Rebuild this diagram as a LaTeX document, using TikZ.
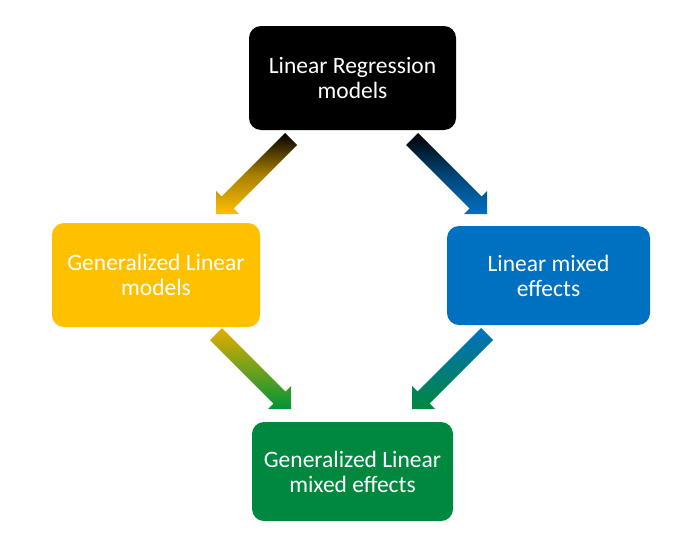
\documentclass[tikz,border=0pt]{standalone}
\usepackage{fontspec}
\setmainfont{Carlito}
\definecolor{cblack}{HTML}{000000}
\definecolor{cyellow}{HTML}{FFC000}
\definecolor{cblue}{HTML}{0070C0}
\definecolor{cgreen}{HTML}{00883E}
\begin{document}
\begin{tikzpicture}[x=1pt,y=-1pt,
  box/.style={rectangle, rounded corners=12pt, text=white, align=center,
    font=\fontsize{23.5}{25}\selectfont, inner sep=0pt},
  blockarrow/.style={draw=none}]
\useasboundingbox[fill=white] (0,0) rectangle (676,538);
% boxes
\node[box, fill=cblack, minimum width=207pt, minimum height=104pt] (lr) at (352.5,78) {Linear Regression\\models};
\node[box, fill=cyellow, minimum width=208pt, minimum height=104pt] (glm) at (156,275) {Generalized Linear\\models};
\node[box, fill=cblue, minimum width=203pt, minimum height=99pt] (lme) at (548.5,275.5) {Linear mixed\\effects};
\node[box, fill=cgreen, minimum width=201pt, minimum height=99pt] (glme) at (352.5,471.5) {Generalized Linear\\mixed effects};
% block arrows
\path[blockarrow, top color=black, bottom color=cyellow, middle color=cyellow!65!black]
  (285,133) -- (297,145) -- (233.5,208.5) -- (239,214) -- (216,214) -- (216,191) -- (221.5,196.5) -- cycle;
\path[blockarrow, top color=black, bottom color=cblue, middle color=cblue!60!black]
  (418,133) -- (406,145) -- (469.5,208.5) -- (464,214) -- (487,214) -- (487,191) -- (481.5,196.5) -- cycle;
\path[blockarrow, top color=cyellow!90!black, bottom color=cgreen!90!green]
  (210,340) -- (222,328) -- (285.5,391.5) -- (291,386) -- (291,409) -- (268,409) -- (273.5,403.5) -- cycle;
\path[blockarrow, top color=cblue, bottom color=cgreen]
  (493,340) -- (481,328) -- (417.5,391.5) -- (412,386) -- (412,409) -- (435,409) -- (429.5,403.5) -- cycle;
\end{tikzpicture}
\end{document}
